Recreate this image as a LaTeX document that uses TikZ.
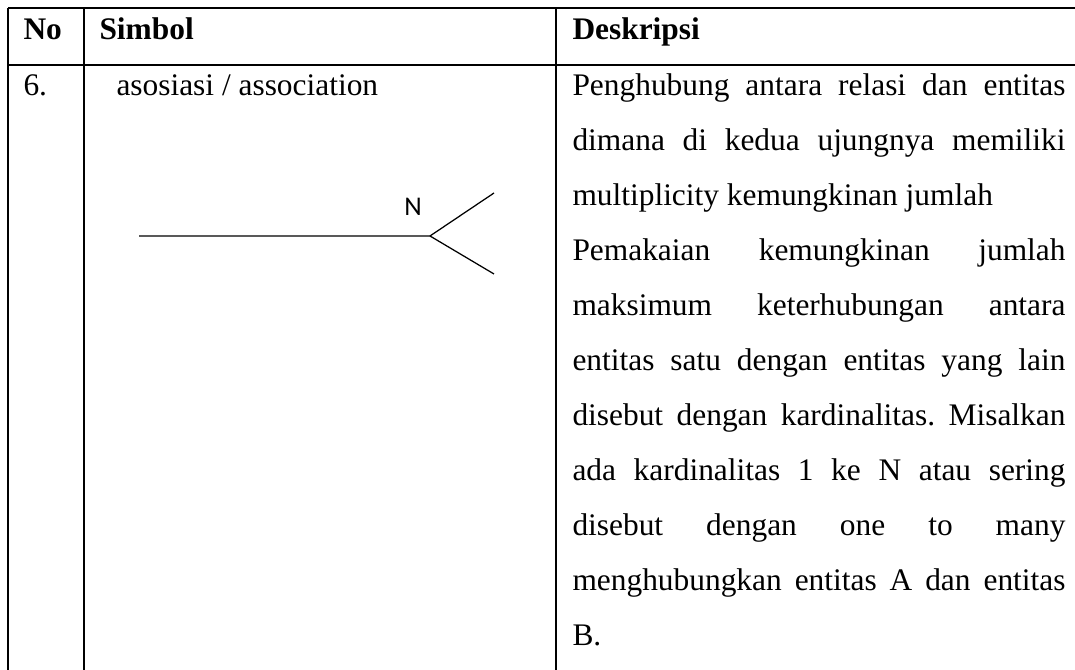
\documentclass[tikz,border=0pt]{standalone}
\usepackage{fontspec}
\setmainfont{Liberation Serif}
\newfontfamily\symfont{Carlito}
\setlength{\parindent}{0pt}
\frenchspacing
\begin{document}
\begin{tikzpicture}[x=0.4pt,y=-0.4pt,
  rule/.style={line width = 1pt},
  cell/.style={anchor=base west,inner sep=0pt,font=\fontsize{12.56}{22}\selectfont},
  head/.style={cell,font=\fontsize{12.56}{22}\selectfont\bfseries}]
\useasboundingbox (0,0) rectangle (1075,670);

% table rules
\draw[rule] (8,8) -- (1075,8);
\draw[rule] (8,65) -- (1075,65);
\draw[rule] (8,8) -- (8,670);
\draw[rule] (84,8) -- (84,670);
\draw[rule] (556,8) -- (556,670);

% header row
\node[head] (no) at (23,40) {No};
\node[head] (simbol) at (99,40) {Simbol};
\node[head] (deskripsi) at (572,40) {Deskripsi};

% row 6
\node[cell] (nomor) at (23,96) {6.};
\node[cell] (nama) at (116,96) {asosiasi / association};

% association symbol
\coordinate (start) at (139,236);
\coordinate (fork) at (430,236);
\coordinate (up) at (494,193);
\coordinate (down) at (494,274);
\draw[line width = 0.5pt] (start) -- (fork) -- (up);
\draw[line width = 0.5pt] (fork) -- (down);
\node[inner sep=0pt,font=\symfont\fontsize{10.8}{12}\selectfont] (n) at (413,207) {N};

\node[anchor=north west,inner sep=0pt,text width=197.2pt,align=justify,
  font=\fontsize{12.56}{22}\selectfont] (desc) at (572,73.6)
  {\tolerance=10000 \hyphenpenalty=10000
  Penghubung antara relasi dan entitas\linebreak
  dimana di kedua ujungnya memiliki\linebreak
  multiplicity kemungkinan jumlah\par
  Pemakaian kemungkinan jumlah\linebreak
  maksimum keterhubungan antara\linebreak
  entitas satu dengan entitas yang lain\linebreak
  disebut dengan kardinalitas. Misalkan\linebreak
  ada kardinalitas 1 ke N atau sering\linebreak
  disebut dengan one to many\linebreak
  menghubungkan entitas A dan entitas\linebreak
  B.};
\end{tikzpicture}
\end{document}
